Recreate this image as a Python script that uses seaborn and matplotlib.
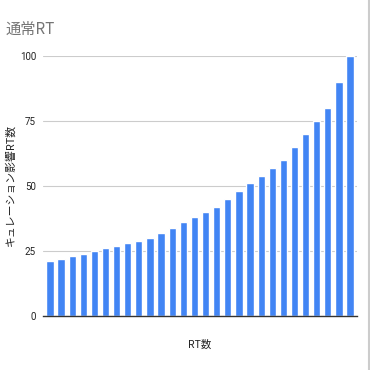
import numpy as np
import pandas as pd
import matplotlib
matplotlib.use("Agg")
import matplotlib.pyplot as plt
import seaborn as sns
from matplotlib.lines import Line2D

# valores (RT de curacion por cuenta, ordenados)
cuentas = [f"c{i + 1}" for i in range(28)]
rt_curacion = [21, 22, 23, 24, 25, 26, 27, 28, 29, 30, 32, 34, 36, 38,
               40, 42, 45, 48, 51, 54, 57, 60, 65, 70, 75, 80, 90, 100]
yticks = [0, 25, 50, 75, 100]

titulo = "通常RT"
etiqueta_x = "RT数"
etiqueta_y = "キュレーション影響RT数"

sns.set_theme(style="white")
plt.rcParams['font.family'] = ['Noto Sans CJK JP', 'DejaVu Sans']

datos = pd.DataFrame({"cuenta": cuentas, "rt": rt_curacion})

fig = plt.figure(figsize=(3.7, 3.7), dpi=100)
ax = fig.add_axes([0.116, 0.146, 0.849, 0.703])

sns.barplot(data=datos, x="cuenta", y="rt", color="#4285F4", width=0.65,
            saturation=1, ax=ax, zorder=3)

ax.set_ylim(0, 100)
ax.set_xlim(-0.63, len(cuentas) - 0.37)
ax.set_yticks(yticks)
ax.set_yticklabels([str(t) for t in yticks], fontsize=7, color="#222222",
                   family=['Roboto', 'DejaVu Sans'])
ax.set_xticks([])
ax.tick_params(axis='y', length=0, pad=5)
ax.grid(axis='y', color="#cccccc", linewidth=0.8, zorder=0)

for lado in ['top', 'right', 'left']:
    ax.spines[lado].set_visible(False)
ax.spines['bottom'].set_color("#333333")
ax.spines['bottom'].set_linewidth(1.0)
ax.spines['bottom'].set_zorder(4)

ax.set_xlabel("")
ax.set_ylabel("")
fig.text(0.54, 0.068, etiqueta_x, fontsize=7.5, color="#222222", ha='center', va='center')
fig.text(0.028, 0.50, etiqueta_y, fontsize=7.8, color="#222222", rotation=90,
         ha='center', va='center')

fig.text(0.014, 0.922, titulo, fontsize=11, color="#757575", ha='left', va='center')

# borde derecho gris claro
fig.add_artist(Line2D([0.996, 0.996], [0, 1], color="#cccccc", linewidth=1.5,
                      transform=fig.transFigure))

plt.savefig("out.png", dpi=100)
